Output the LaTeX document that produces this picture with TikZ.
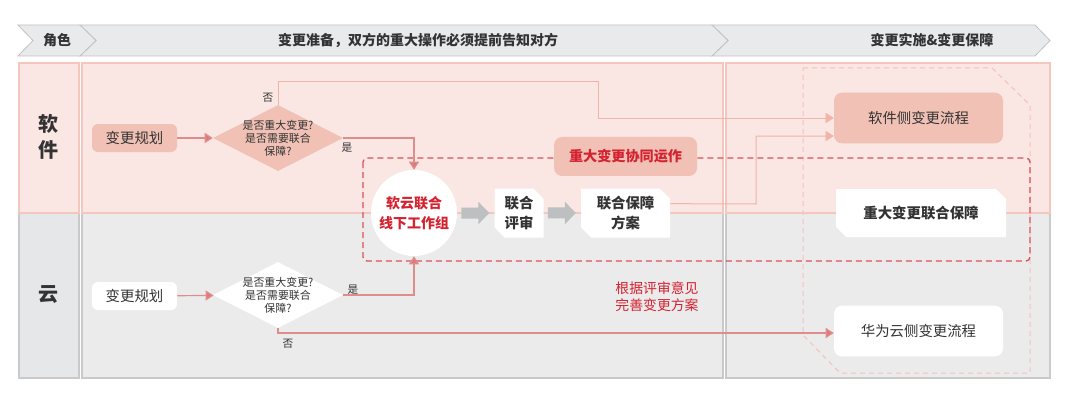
\documentclass[tikz,border=0pt]{standalone}
\usepackage{fontspec}
\setmainfont{Noto Sans CJK SC}
\usetikzlibrary{arrows.meta,positioning,shapes.geometric,shapes.misc}
\definecolor{salmon}{HTML}{F0C1B4}
\definecolor{pinklane}{HTML}{FAE6E3}
\definecolor{pinkedge}{HTML}{F3C6BE}
\definecolor{greylane}{HTML}{EBEBEB}
\definecolor{greyrole}{HTML}{E6E7E9}
\definecolor{greyedge}{HTML}{C9C9C9}
\definecolor{headfill}{HTML}{E9EAEC}
\definecolor{headedge}{HTML}{C2C2C2}
\definecolor{alert}{HTML}{D42230}
\definecolor{ink}{HTML}{333333}
\definecolor{paleline}{HTML}{F0B5A7}
\definecolor{redline}{HTML}{DE8C8C}
\definecolor{redtip}{HTML}{E07A7A}
\definecolor{dashred}{HTML}{DA525B}
\definecolor{dashpale}{HTML}{F2C2BF}
\definecolor{blockgrey}{HTML}{BEBFC1}

\begin{document}
\begin{tikzpicture}[x=0.75pt,y=-0.75pt,text=ink,font=\fontsize{10.8}{13}\selectfont,
plan/.style={rounded corners=4.5pt,minimum width=63.75pt,minimum height=21pt,inner sep=0pt},
ask/.style={diamond,minimum width=97.5pt,minimum height=49.5pt,inner sep=0pt},
asktext/.style={font=\fontsize{8.2}{9.75}\selectfont,align=center,text=ink},
flow/.style={rounded corners=6pt,minimum width=126.75pt,minimum height=38pt,inner sep=0pt},
cutbox/.style={chamfered rectangle,chamfered rectangle corners={north east,south west},
chamfered rectangle xsep=4pt,fill=white,minimum height=36.75pt,inner sep=0pt,align=center,font=\fontsize{10.8}{15}\selectfont\bfseries},
tag/.style={font=\fontsize{8}{9}\selectfont,inner sep=0pt},
headtext/.style={font=\fontsize{10.5}{12}\selectfont\bfseries},
lanetext/.style={font=\fontsize{15}{20}\selectfont\bfseries,align=center},
arr/.style={-{Triangle[length=6pt,width=7.5pt,fill=redtip]},color=redline,line width=0.9pt},
palearr/.style={-{Triangle[length=6pt,width=7.5pt]},color=paleline,line width=0.75pt},
blockarr/.style={-{Triangle[length=8.25pt,width=16.5pt]},color=blockgrey,line width=8.25pt,
shorten <=3pt,shorten >=3.75pt}]
\useasboundingbox (0,0) rectangle (1073,403);
\filldraw[fill=headfill,draw=headedge,line width=0.6pt] (712,25) -- (1035,25) -- (1050,40.5) -- (1035,56) -- (712,56) -- (728,40.5) -- cycle;
\filldraw[fill=headfill,draw=headedge,line width=0.6pt] (80,25) -- (712,25) -- (728,40.5) -- (712,56) -- (80,56) -- (96,40.5) -- cycle;
\filldraw[fill=headfill,draw=headedge,line width=0.6pt] (18,25) -- (80,25) -- (96,40.5) -- (80,56) -- (18,56) -- (33,40.5) -- cycle;
\node[headtext] (rolehead) at (57,40.5) {角色};
\node[headtext] (prephead) at (418,40.5) {变更准备，双方的重大操作必须提前告知对方};
\node[headtext] (runhead) at (932,40.5) {变更实施\&变更保障};
\filldraw[fill=greyrole,draw=greyedge,line width=0.8pt] (19,213) rectangle (79,378);
\filldraw[fill=greylane,draw=greyedge,line width=0.8pt] (82,213) rectangle (723,378);
\filldraw[fill=greylane,draw=greyedge,line width=0.8pt] (726,213) rectangle (1050,378);
\filldraw[fill=pinklane,draw=pinkedge,line width=0.8pt] (19,63) rectangle (79,213);
\filldraw[fill=pinklane,draw=pinkedge,line width=0.8pt] (82,63) rectangle (723,213);
\filldraw[fill=pinklane,draw=pinkedge,line width=0.8pt] (726,63) rectangle (1050,213);
\node[lanetext] (softrole) at (48,137) {软\\件};
\node[lanetext] (cloudrole) at (48,295) {云};
\draw[dashpale,line width=0.75pt,dash pattern=on 3.75pt off 3pt] (803,68) -- (992,68) -- (1030,105) -- (1030,373) -- (840,373) -- (803,335) -- cycle;
\draw[dashred,line width=1pt,dash pattern=on 4.5pt off 3pt,rounded corners=3pt] (363,158) rectangle (1030,261);
\node[plan,fill=salmon] (softplan) at (134.5,138) {变更规划};
\node[ask,fill=salmon,label={[asktext]center:是否重大变更?\\是否需要联合\\保障?}] (softask) at (278,138) {};
\node[plan,fill=white] (cloudplan) at (134.5,296) {变更规划};
\node[ask,fill=white,label={[asktext]center:是否重大变更?\\是否需要联合\\保障?}] (cloudask) at (278,295) {};
\node[circle,fill=white,minimum size=64.5pt,inner sep=0pt,align=center,text=alert,
font=\fontsize{10.5}{15}\selectfont\bfseries] (group) at (414,213) {软云联合\\线下工作组};
\node[cutbox,minimum width=36.75pt,right=27.75pt of group] (review) {联合\\评审};
\node[cutbox,minimum width=66.75pt,right=27.75pt of review] (scheme) {联合保障\\方案};
\node[plan,fill=salmon,rounded corners=6pt,minimum width=107.25pt,minimum height=29.25pt,text=alert,
font=\fontsize{10.6}{13}\selectfont\bfseries,above=9pt of scheme] (coop) {重大变更协同运作};
\node[flow,fill=salmon] (softflow) at (918.5,118) {软件侧变更流程};
\node[cutbox,minimum width=127.5pt,minimum height=36pt] (joint) at (921,213) {重大变更联合保障};
\node[flow,fill=white] (cloudflow) at (918.5,331) {华为云侧变更流程};
\node[align=center,text=alert,font=\fontsize{10.4}{12.75}\selectfont] (advice) at (657,297) {根据评审意见\\完善变更方案};
\node[tag] (softno) at (268,98) {否};
\node[tag] (softyes) at (347,148) {是};
\node[tag] (cloudyes) at (353,290) {是};
\node[tag] (cloudno) at (288,344) {否};
\draw[arr] (softplan) -- (softask);
\draw[arr] (softask.east) -| (group.north);
\draw[palearr] (softask.north) |- (598,81) |- (softflow.west);
\draw[palearr] ([yshift=7pt]scheme.east) -- (756,204) |- ([yshift=-13.5pt]softflow.west);
\draw[arr] (cloudplan) -- (cloudask);
\draw[arr] (cloudask.east) -| (group.south);
\draw[arr] (cloudask.south) |- ([yshift=-1.5pt]cloudflow.west);
\draw[blockarr] (group) -- (review);
\draw[blockarr] (review) -- (scheme);
\end{tikzpicture}
\end{document}
